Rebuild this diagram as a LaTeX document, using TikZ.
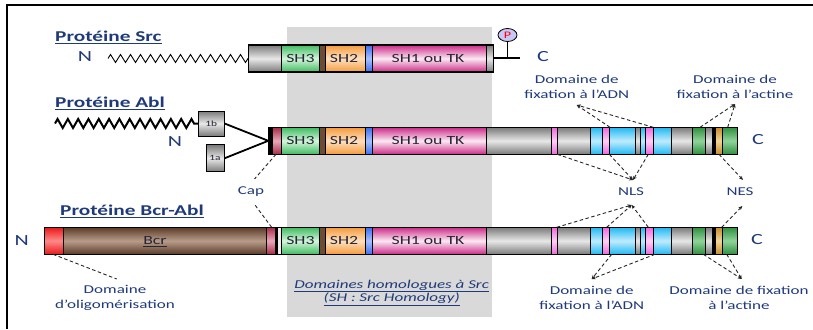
\documentclass[tikz,border=0pt]{standalone}
\usepackage{fontspec}
\setmainfont{Carlito}[FakeStretch=1.42]
\usetikzlibrary{decorations.pathmorphing,arrows.meta,shapes.geometric}
\definecolor{navy}{HTML}{1F3A7A}
\definecolor{bgGray}{HTML}{D9D9D9}
\definecolor{grE}{HTML}{7A7A7A}\definecolor{grM}{HTML}{E8E8E8}
\definecolor{g3E}{HTML}{3DBB5F}\definecolor{g3M}{HTML}{D5F5DC}
\definecolor{brS}{HTML}{6E4B33}
\definecolor{o2E}{HTML}{F59A3A}\definecolor{o2M}{HTML}{FDE0C0}
\definecolor{blE}{HTML}{3A6FF0}\definecolor{blM}{HTML}{A8C0FF}
\definecolor{p1E}{HTML}{CC2B88}\definecolor{p1M}{HTML}{FBE8F2}
\definecolor{rsE}{HTML}{A82A48}\definecolor{rsM}{HTML}{EAA8B8}
\definecolor{pkE}{HTML}{EE66DD}\definecolor{pkM}{HTML}{FFD0F6}
\definecolor{cyE}{HTML}{20B8F0}\definecolor{cyM}{HTML}{C0ECFF}
\definecolor{gnE}{HTML}{2F8F3F}\definecolor{gnM}{HTML}{90D49A}
\definecolor{tnE}{HTML}{C88A28}\definecolor{tnM}{HTML}{F2D49A}
\definecolor{bcE}{HTML}{5A3B28}\definecolor{bcM}{HTML}{B89C8A}
\definecolor{rdE}{HTML}{E81818}\definecolor{rdM}{HTML}{FF8A8A}
\definecolor{lav}{HTML}{C8C8F8}
\definecolor{dtext}{HTML}{252535}
\newcommand\segm[3]{\path[#1] (#2,\ytop) rectangle (#3,\ybot);}
\newcommand\shpart{%
 \segm{ssh3}{281.5}{319.3}
 \segm{sbrown}{319.3}{325.3}
 \segm{ssh2}{325.3}{365.3}
 \segm{sblue}{365.3}{372}
 \segm{ssh1}{372}{486.7}}
\newcommand\ablright{%
 \segm{sgray}{486.7}{551.7}
 \segm{spink}{551.7}{557.3}
 \segm{sgray}{557.3}{590}
 \segm{scyan}{590}{602.3}
 \segm{spink}{602.3}{609.3}
 \segm{scyan}{609.3}{635}
 \segm{sgray}{635}{640.7}
 \segm{scyan}{640.7}{645.7}
 \segm{spink}{645.7}{653.3}
 \segm{scyan}{653.3}{671}
 \segm{sgray}{671}{692.3}
 \segm{sgreen}{692.3}{705.7}
 \segm{sgray}{705.7}{712.3}
 \segm{sblack}{712.3}{715}
 \segm{stan}{715}{722.3}
 \segm{sgreen}{722.3}{737.7}}
\tikzset{
 seg/.style={draw=black,line width=0.7pt},
 sh/.style 2 args={seg,top color=#1,bottom color=#1,middle color=#2},
 sgray/.style={sh={grE}{grM}},
 ssh3/.style={sh={g3E}{g3M}},
 sbrown/.style={seg,fill=brS},
 ssh2/.style={sh={o2E}{o2M}},
 sblue/.style={sh={blE}{blM}},
 ssh1/.style={sh={p1E}{p1M}},
 srose/.style={sh={rsE}{rsM}},
 spink/.style={sh={pkE}{pkM}},
 scyan/.style={sh={cyE}{cyM}},
 sgreen/.style={sh={gnE}{gnM}},
 stan/.style={sh={tnE}{tnM}},
 sbcr/.style={sh={bcE}{bcM}},
 sred/.style={sh={rdE}{rdM}},
 sblack/.style={seg,fill=black},
 swhite/.style={seg,fill=gray!12},
 outline/.style={draw=black,line width=1.1pt},
 dom/.style={font=\fontsize{12.5}{14}\selectfont,text=dtext,inner sep=0pt},
 lab/.style={font=\fontsize{12}{14.3}\selectfont,text=navy,align=center,inner sep=0pt},
 ttl/.style={font=\fontsize{15}{17}\selectfont\bfseries,text=navy,anchor=west,inner sep=0pt},
 term/.style={font=\fontsize{15.5}{17}\selectfont,text=navy,inner sep=0pt},
 conn/.style={draw=black!85,dashed,dash pattern=on 3.5pt off 2.5pt,line width=0.9pt},
 connA/.style={conn,-{Stealth[length=4pt,width=3.5pt]}},
 exon/.style={draw=black,line width=1pt,top color=grE,bottom color=grE,middle color=grM,
   inner sep=0pt,font=\fontsize{8}{9}\selectfont,text=dtext},
}
\begin{document}
\begin{tikzpicture}[x=1pt,y=-1pt]
\useasboundingbox (0,0) rectangle (813,329);
\fill[bgGray] (287,27) rectangle (492,317);
\draw[line width=2pt] (7,329) -- (7,5) -- (813,5);

% ---------- Src ----------
\node[ttl] (srcT) at (55,37) {\underline{Protéine Src}};
\node[term] (srcN) at (85,57) {N};
\coordinate (srcZ0) at (108,58.5);
\coordinate (srcZ1) at (248.3,58.5);
\draw[line width=0.9pt,decorate,decoration={zigzag,segment length=10pt,amplitude=4pt}] (srcZ0) -- (srcZ1);
\def\ytop{45}\def\ybot{72}
\segm{sgray}{248.3}{281.5}
\shpart
\segm{sgray}{486.7}{493.3}
\draw[outline] (248.3,45) rectangle (493.3,72);
\node[dom] (srcSH3) at (300.4,58.5) {SH3};
\node[dom] (srcSH2) at (344,58.5) {SH2};
\node[dom] (srcSH1) at (428,58.5) {SH1 ou TK};
\coordinate (srcEnd) at (493.3,58.5);
\coordinate (srcTail) at (520,58.5);
\coordinate (srcStem) at (507.5,58.5);
\draw[line width=2pt] (srcEnd) -- (srcTail);
\node[ellipse,draw=black,line width=0.8pt,fill=lav,minimum width=19,minimum height=13,inner sep=0pt,
  font=\fontsize{10}{10}\selectfont,text=red] (phos) at (507.5,35) {P};
\draw[line width=1.6pt] (phos.south) -- (srcStem);
\node[term] (srcC) at (543,57) {C};

% ---------- Abl ----------
\node[ttl] (ablT) at (55,103) {\underline{Protéine Abl}};
\node[exon] (e1b) at (211.2,123.5) [minimum width=25.7,minimum height=25] {1b};
\node[exon] (e1a) at (215,158.3) [minimum width=18,minimum height=26.7] {1a};
\coordinate (ablZ0) at (55,123.5);
\draw[line width=2pt,decorate,decoration={zigzag,segment length=10.3pt,amplitude=4.5pt}] (ablZ0) -- (e1b.west);
\node[term] (ablN) at (175,141.5) {N};
\coordinate (ablStart) at (268.3,140.8);
\draw[line width=1.8pt] (e1b.east) -- (ablStart) -- (e1a.east);
\def\ytop{127.3}\def\ybot{154.3}
\segm{sblack}{268.3}{272.3}
\segm{srose}{272.3}{281.5}
\shpart
\ablright
\draw[outline] (268.3,127.3) rectangle (737.7,154.3);
\node[dom] (ablSH3) at (300.4,140.8) {SH3};
\node[dom] (ablSH2) at (344,140.8) {SH2};
\node[dom] (ablSH1) at (428,140.8) {SH1 ou TK};
\node[term] (ablC) at (758,140) {C};

% labels above Abl
\node[lab] (dnaT) at (576.7,87) {Domaine de\\fixation à l’ADN};
\node[lab] (actT) at (735,87) {Domaine de\\fixation à l’actine};
\coordinate (dnaTp) at (576.7,105);
\coordinate (actTp) at (735,104);
\coordinate (aD1) at (610,127.3);
\coordinate (aD2) at (653.3,127.3);
\coordinate (aA1) at (700,127.3);
\coordinate (aA2) at (727.7,127.3);
\draw[connA] (aD1) -- (dnaTp);
\draw[connA] (aD2) -- (dnaTp);
\draw[connA] (aA1) -- (actTp);
\draw[connA] (aA2) -- (actTp);

% NLS / NES / Cap
\node[lab] (nls) at (631,192) {NLS};
\node[lab] (nes) at (740,192) {NES};
\node[lab] (cap) at (251,192) {Cap};
\coordinate (nlsU) at (633,180);
\coordinate (nlsD) at (631.7,205);
\coordinate (nesU) at (743,180);
\coordinate (nesD) at (742.3,206);
\coordinate (capU) at (254.5,179);
\coordinate (capD) at (255,205);
\coordinate (aN1) at (557.3,154.3);
\coordinate (aN2) at (609.3,154.3);
\coordinate (aN3) at (648.3,154.3);
\coordinate (aE) at (719,154.3);
\coordinate (aCap) at (276,154.3);
\draw[connA] (aN1) -- (nlsU);
\draw[connA] (aN2) -- (nlsU);
\draw[connA] (aN3) -- (nlsU);
\draw[connA] (aE) -- (nesU);
\draw[conn] (aCap) -- (capU);

% ---------- Bcr-Abl ----------
\node[ttl] (bcrT) at (60,211.5) {\underline{Protéine Bcr-Abl}};
\node[term] (bcrN) at (21.7,240.5) {N};
\def\ytop{227.3}\def\ybot{254.3}
\segm{sred}{44.3}{63.3}
\segm{sbcr}{63.3}{266.7}
\segm{srose}{266.7}{275.3}
\segm{sblack}{275.3}{277.7}
\segm{swhite}{277.7}{281.5}
\shpart
\ablright
\draw[outline] (44.3,227.3) rectangle (737.7,254.3);
\node[dom] (bcrTxt) at (155,242) {\underline{Bcr}};
\node[dom] (bSH3) at (300.4,240.8) {SH3};
\node[dom] (bSH2) at (344,240.8) {SH2};
\node[dom] (bSH1) at (428,240.8) {SH1 ou TK};
\node[term] (bcrC) at (757,240) {C};

\coordinate (bN1) at (556.7,227.3);
\coordinate (bN2) at (606.7,227.3);
\coordinate (bN3) at (648.3,227.3);
\coordinate (bE) at (721.7,227.3);
\coordinate (bCap) at (271.7,227.3);
\draw[connA] (bN1) -- (nlsD);
\draw[connA] (bN2) -- (nlsD);
\draw[connA] (bN3) -- (nlsD);
\draw[connA] (bE) -- (nesD);
\draw[conn] (bCap) -- (capD);

% labels below Bcr-Abl
\node[lab] (dnaB) at (591.7,298) {Domaine de\\fixation à l’ADN};
\node[lab] (actB) at (739,298) {Domaine de fixation\\à l’actine};
\node[lab] (olig) at (115,298) {Domaine\\d’oligomérisation};
\node[lab,font=\fontsize{12}{13.3}\selectfont\itshape] (shH) at (391.7,292.6)
  {\underline{Domaines homologues à Src}\\\underline{(SH : Src Homology)}};
\coordinate (dnaBp) at (591.7,279);
\coordinate (actBp) at (741.7,279);
\coordinate (oligP) at (116.7,279);
\coordinate (bD1) at (611.7,254.3);
\coordinate (bD2) at (655,254.3);
\coordinate (bA1) at (703.3,254.3);
\coordinate (bA2) at (726.7,254.3);
\coordinate (bO) at (53,254.3);
\draw[connA] (bD1) -- (dnaBp);
\draw[connA] (bD2) -- (dnaBp);
\draw[connA] (bA1) -- (actBp);
\draw[connA] (bA2) -- (actBp);
\draw[conn] (bO) -- (oligP);
\end{tikzpicture}
\end{document}
